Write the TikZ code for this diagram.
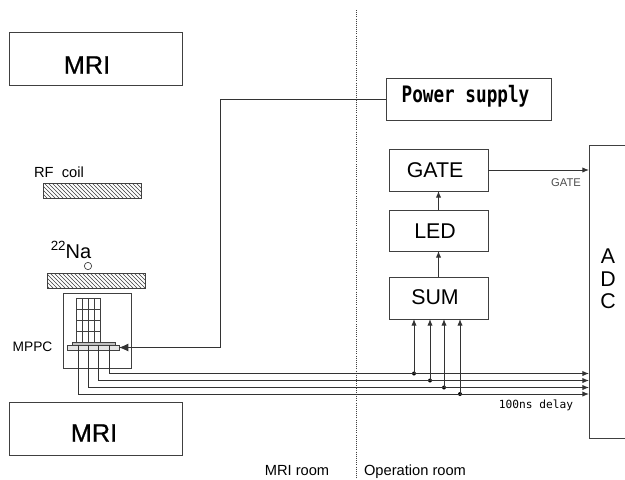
\documentclass[tikz,border=0pt]{standalone}
\usepackage{fontspec}
\setmainfont{Liberation Sans}
\newfontfamily\monof{DejaVu Sans Mono}
\newfontfamily\psfont[FakeStretch=0.78]{DejaVu Sans Mono}
\newfontfamily\heavy[RawFeature={embolden=0.7}]{Liberation Sans}
\usetikzlibrary{arrows.meta,patterns}
\definecolor{ln}{gray}{0.25}
\tikzset{
 x=0.75pt,y=-0.75pt,
 every node/.style={inner sep=0pt,outer sep=0pt},
 box/.style={draw=ln,line width=0.7pt,fill=white},
 hatch/.style={draw=ln,line width=0.7pt,pattern=north west lines,pattern color=ln},
 wire/.style={draw=black!80,line width=0.7pt},
 arrowed/.style={wire,-{Latex[length=5pt,width=4pt]}},
 bigarrow/.style={wire,-{Latex[length=7pt,width=6pt]}},
 tap/.style={circle,fill=black,minimum size=3pt},
 big/.style={font=\heavy\fontsize{19pt}{21pt}\selectfont},
 mid/.style={font=\fontsize{16pt}{18pt}\selectfont},
 small/.style={font=\fontsize{11pt}{13pt}\selectfont},
}
\begin{document}
\begin{tikzpicture}
\useasboundingbox (0,0) rectangle (625,479);
\fill[white] (0,0) rectangle (625,479);
% room divider
\coordinate (divT) at (356,10); \coordinate (divB) at (356,479);
\draw[draw=ln,line width=0.6pt,densely dotted] (divT) -- (divB);
% MRI
\node[box,minimum width=173*0.75pt,minimum height=53*0.75pt] (mriT) at (95.5,58.5) {};
\node[big] (mriTl) at (87,65) {MRI};
\node[box,minimum width=173*0.75pt,minimum height=53*0.75pt] (mriB) at (95.5,428.5) {};
\node[big] (mriBl) at (94,433) {MRI};
% coils
\node[hatch,minimum width=98*0.75pt,minimum height=15*0.75pt] (rf) at (92,190.5) {};
\node[small] (rfl) at (59,172) {RF\ \ coil};
\node[font=\fontsize{15pt}{17pt}\selectfont] (na) at (71,250) {\raisebox{0.42em}{\fontsize{10pt}{11pt}\selectfont 22}Na};
\node[draw=ln,line width=0.5pt,circle,minimum size=5.5pt] (src) at (88,266) {};
\node[hatch,minimum width=98*0.75pt,minimum height=15*0.75pt] (rf2) at (96,280.5) {};
% detector
\node[box,minimum width=68*0.75pt,minimum height=75*0.75pt] (det) at (97,330.5) {};
\node[font=\fontsize{10.3pt}{12pt}\selectfont] (mppc) at (32.5,347) {MPPC};
\draw[draw=ln,line width=0.6pt] (76,298) -- (100,298) (76,309) -- (100,309) (76,320) -- (100,320) (76,331) -- (100,331)
 (76,298) -- (76,342) (82,298) -- (82,342) (88,298) -- (88,342) (94,298) -- (94,342) (100,298) -- (100,342);
\node[draw=ln,line width=0.6pt,fill=black!25,minimum width=43*0.75pt,minimum height=3*0.75pt] (sipm) at (93.5,343.5) {};
\node[draw=ln,line width=0.6pt,fill=black!10,minimum width=52*0.75pt,minimum height=5*0.75pt] (board) at (93,347.5) {};
% electronics
\node[box,minimum width=165*0.75pt,minimum height=42*0.75pt] (ps) at (468.5,99) {};
\node[font=\psfont\bfseries\fontsize{17pt}{19pt}\selectfont,anchor=base] (psl) at (465.5,102) {Power supply};
\node[box,minimum width=99*0.75pt,minimum height=42*0.75pt] (gate) at (438.5,170) {};
\node[mid] (gatel) at (435,170) {GATE};
\node[box,minimum width=99*0.75pt,minimum height=41*0.75pt] (led) at (438.5,230.5) {};
\node[mid] (ledl) at (435,231) {LED};
\node[box,minimum width=99*0.75pt,minimum height=42*0.75pt] (sum) at (438.5,298) {};
\node[mid] (suml) at (435,297) {SUM};
\node[box,minimum width=50*0.75pt,minimum height=293*0.75pt] (adc) at (614,291.5) {};
\node[mid] (adcA) at (608,256) {A};
\node[mid] (adcD) at (608,279) {D};
\node[mid] (adcC) at (608,301) {C};
% connectors
\draw[bigarrow] (ps.west) -- (220,99) -- (220,347.5) -- (board.east);
\draw[arrowed] (sum.north) -- (led.south);
\draw[arrowed] (led.north) -- (gate.south);
\draw[arrowed] (gate.east) -- (adc.west |- gate.east);
\node[font=\fontsize{8.4pt}{10pt}\selectfont,text=black!70] (gl) at (566,183) {GATE};
% signals
\node[tap] (t1) at (414,373.5) {};
\node[tap] (t2) at (430,380.5) {};
\node[tap] (t3) at (444,387.5) {};
\node[tap] (t4) at (460,394) {};
\coordinate (a1) at (589,373.5); \coordinate (a2) at (589,380.5); \coordinate (a3) at (589,387.5); \coordinate (a4) at (589,394);
\coordinate (s1) at (109,345); \coordinate (s2) at (98,345); \coordinate (s3) at (88,345); \coordinate (s4) at (78,345);
\draw[wire] (s1) -- (s1 |- t1.center) -- (t1.center);
\draw[wire] (s2) -- (s2 |- t2.center) -- (t2.center);
\draw[wire] (s3) -- (s3 |- t3.center) -- (t3.center);
\draw[wire] (s4) -- (s4 |- t4.center) -- (t4.center);
\draw[arrowed] (t1.center) -- (a1);
\draw[arrowed] (t2.center) -- (a2);
\draw[arrowed] (t3.center) -- (a3);
\draw[arrowed] (t4.center) -- (a4);
\draw[arrowed] (t1.center) -- (t1.center |- sum.south);
\draw[arrowed] (t2.center) -- (t2.center |- sum.south);
\draw[arrowed] (t3.center) -- (t3.center |- sum.south);
\draw[arrowed] (t4.center) -- (t4.center |- sum.south);
\node[font=\monof\fontsize{8.4pt}{10pt}\selectfont] (dl) at (536,405) {100ns delay};
\node[small,anchor=base] (r1) at (297,475) {MRI room};
\node[small,anchor=base] (r2) at (415,475) {Operation room};
\end{tikzpicture}
\end{document}
